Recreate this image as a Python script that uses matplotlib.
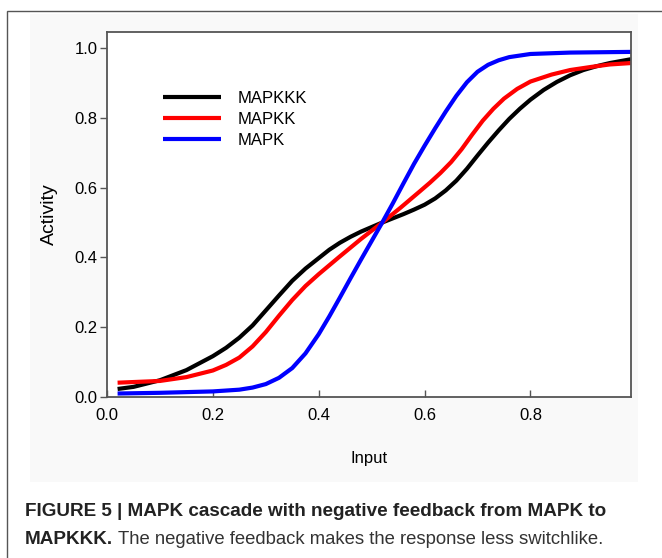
import matplotlib
matplotlib.use('Agg')
import matplotlib.pyplot as plt
from matplotlib.patches import Rectangle

plt.rcParams['font.family'] = ['Liberation Sans', 'DejaVu Sans']

# data
x_black = [0.02, 0.05, 0.10, 0.15, 0.20, 0.225, 0.25, 0.275, 0.30, 0.325, 0.35, 0.375, 0.40,
           0.42, 0.44, 0.46, 0.48, 0.50, 0.52, 0.54, 0.56, 0.58, 0.60, 0.62, 0.64, 0.66,
           0.68, 0.70, 0.72, 0.74, 0.76, 0.78, 0.80, 0.825, 0.85, 0.875, 0.90, 0.925, 0.95, 0.99]
mapkkk = [0.023, 0.029, 0.048, 0.077, 0.117, 0.141, 0.170, 0.205, 0.248, 0.291, 0.333, 0.368, 0.398,
          0.422, 0.442, 0.459, 0.474, 0.487, 0.50, 0.512, 0.524, 0.537, 0.551, 0.569, 0.592, 0.62,
          0.654, 0.692, 0.729, 0.764, 0.797, 0.826, 0.852, 0.88, 0.903, 0.922, 0.937, 0.948, 0.957, 0.968]

x_red = [0.02, 0.10, 0.15, 0.20, 0.225, 0.25, 0.275, 0.30, 0.325, 0.35, 0.375, 0.40, 0.44,
         0.48, 0.52, 0.555, 0.59, 0.61, 0.63, 0.65, 0.67, 0.69, 0.71, 0.73, 0.75, 0.775,
         0.80, 0.84, 0.875, 0.915, 0.95, 0.99]
mapkk = [0.041, 0.046, 0.057, 0.076, 0.092, 0.113, 0.145, 0.186, 0.233, 0.278, 0.318, 0.352, 0.403,
         0.453, 0.50, 0.543, 0.588, 0.614, 0.642, 0.673, 0.71, 0.752, 0.792, 0.826, 0.855, 0.883,
         0.904, 0.924, 0.937, 0.946, 0.953, 0.957]

x_blue = [0.02, 0.10, 0.20, 0.25, 0.275, 0.30, 0.325, 0.35, 0.375, 0.40, 0.42, 0.44, 0.46,
          0.48, 0.50, 0.52, 0.54, 0.56, 0.58, 0.60, 0.62, 0.64, 0.66, 0.68, 0.70, 0.72,
          0.74, 0.76, 0.80, 0.875, 0.99]
mapk = [0.010, 0.012, 0.016, 0.021, 0.027, 0.037, 0.055, 0.083, 0.125, 0.18, 0.231, 0.285, 0.34,
        0.394, 0.447, 0.50, 0.555, 0.612, 0.668, 0.72, 0.77, 0.818, 0.863, 0.902, 0.932, 0.952,
        0.965, 0.974, 0.983, 0.987, 0.989]

x_ticks = [0.0, 0.2, 0.4, 0.6, 0.8]
y_ticks = [0.0, 0.2, 0.4, 0.6, 0.8, 1.0]

fig = plt.figure(figsize=(6.62, 5.58), dpi=100)

# faint grey panel behind the plot, and the outer frame
fig.patches.append(Rectangle((30/662, 1 - 482/558), 608/662, 468/558, transform=fig.transFigure,
                             facecolor='#f9f9f9', edgecolor='none', zorder=-10))
fig.patches.append(Rectangle((7/662, -0.1), 1.2, 0.1 + (558 - 11)/558, transform=fig.transFigure,
                             facecolor='none', edgecolor='#555555', lw=1.0, zorder=-9))

ax = fig.add_axes([107/662, 1 - 397/558, 524/662, 365/558])
ax.set_facecolor('white')
line_kw = dict(lw=3, solid_joinstyle='round', solid_capstyle='butt')
ax.plot(x_black, mapkkk, color='black', label='MAPKKK', **line_kw)
ax.plot(x_red, mapkk, color='#ff0000', label='MAPKK', **line_kw)
ax.plot(x_blue, mapk, color='#0000ff', label='MAPK', **line_kw)

ax.set_xlim(0, 0.99)
ax.set_ylim(0, 1.046)
ax.set_xticks(x_ticks)
ax.set_yticks(y_ticks)
ax.set_xticklabels(['%.1f' % v for v in x_ticks])
ax.set_yticklabels(['%.1f' % v for v in y_ticks])
ax.tick_params(axis='x', direction='in', length=5, width=1, color='#555555', pad=8, labelsize=12)
ax.tick_params(axis='y', direction='out', length=5, width=1, color='#555555', pad=2, labelsize=12)
for s in ax.spines.values():
    s.set_color('#555555')
    s.set_linewidth(1.3)

ax.set_xlabel('Input', fontsize=12, labelpad=20)
ax.set_ylabel('Activity', fontsize=14, labelpad=12)

ax.legend(loc='upper left', bbox_to_anchor=(0.107, 0.8395), frameon=False, fontsize=12,
          handlelength=3.5, handletextpad=1.0, borderpad=0, borderaxespad=0, labelspacing=0.37)

# caption
fig.text(25/662, 1 - 512/558, 'FIGURE 5 | MAPK cascade with negative feedback from MAPK to',
         fontsize=13.6, weight='bold', color='#222222', va='center')
t1 = fig.text(25/662, 1 - 540/558, 'MAPKKK.', fontsize=13.6, weight='bold',
              color='#222222', va='center')
fig.canvas.draw()
bb = t1.get_window_extent(renderer=fig.canvas.get_renderer())
fig.text((bb.x1 + 5) / 662, 1 - 540/558, 'The negative feedback makes the response less switchlike.',
         fontsize=13.3, color='#333333', va='center')

fig.savefig('out.png', dpi=100)
